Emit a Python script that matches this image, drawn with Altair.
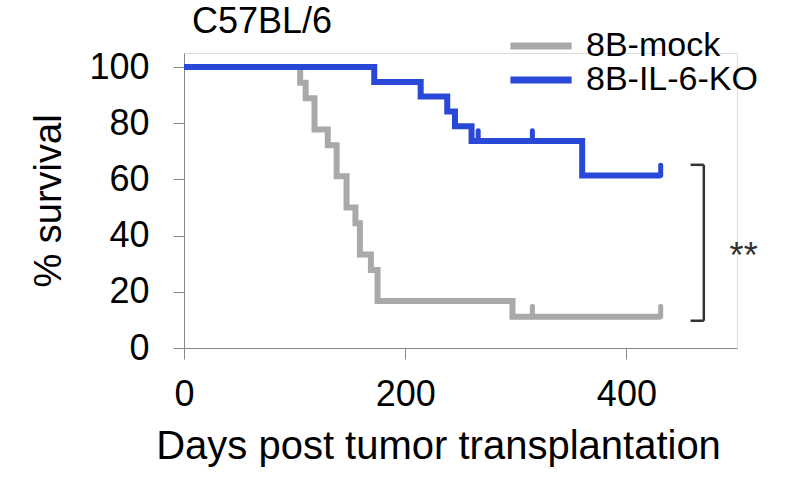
import altair as alt
import pandas as pd

FONT = "Liberation Sans"

# Kaplan-Meier step data (days, % survival)
mock_days = [0, 105, 110, 118, 130, 138, 147, 155, 159, 169, 175, 297, 431]
mock_surv = [100, 94.4, 88.9, 77.8, 72.2, 61.1, 50.0, 44.4, 33.3, 27.8, 16.7, 11.1, 11.1]
ko_days = [0, 172, 214, 238, 245, 260, 360, 431]
ko_surv = [100, 94.7, 89.5, 84.2, 78.9, 73.7, 61.4, 61.4]

# censored observations
cens_mock_days = [315, 431]
cens_mock_surv = [11.1, 11.1]
cens_ko_days = [266, 315, 431]
cens_ko_surv = [73.7, 73.7, 61.4]

groups = ["8B-mock", "8B-IL-6-KO"]
colors = ["#a9a9a9", "#2a48d8"]

# significance bracket (data units)
br_x = [470, 458, 458]
br_x2 = [470, 470, 470]
br_y = [9.7, 65.2, 9.7]
br_y2 = [65.2, 65.2, 9.7]
sig_label = ["**"]
sig_x = [506]
sig_y = [32.5]

curves = pd.concat([
    pd.DataFrame({"day": mock_days, "surv": mock_surv, "group": groups[0]}),
    pd.DataFrame({"day": ko_days, "surv": ko_surv, "group": groups[1]}),
])
cens = pd.concat([
    pd.DataFrame({"day": cens_mock_days, "surv": cens_mock_surv, "group": groups[0]}),
    pd.DataFrame({"day": cens_ko_days, "surv": cens_ko_surv, "group": groups[1]}),
])
bracket = pd.DataFrame({"x": br_x, "x2": br_x2, "y": br_y, "y2": br_y2})
sig = pd.DataFrame({"label": sig_label, "x": sig_x, "y": sig_y})

xscale = alt.Scale(domain=[0, 500], nice=False)
yscale = alt.Scale(domain=[0, 105], nice=False)
color = alt.Color(
    "group:N",
    scale=alt.Scale(domain=groups, range=colors),
    sort=groups,
    legend=alt.Legend(
        title=None, orient="none", legendX=340, legendY=-24,
        symbolType="M-6,0H6", symbolSize=104, symbolStrokeWidth=7,
        labelFontSize=34, labelFont=FONT, labelOffset=28, labelColor="black",
        labelLimit=400, rowPadding=0, padding=0,
    ),
)

xax = alt.Axis(values=[0, 200, 400], title="Days post tumor transplantation",
               labelFontSize=36, titleFontSize=40, labelPadding=18, titlePadding=14,
               titleFontWeight="normal", labelFlush=False, titleX=254,
               tickSize=11, grid=False)
yax = alt.Axis(values=[0, 20, 40, 60, 80, 100], title="% survival",
               labelFontSize=36, titleFontSize=38, labelPadding=24, titlePadding=20,
               titleFontWeight="normal",
               tickSize=11, grid=False)

lines = alt.Chart(curves).mark_line(interpolate="step-after", strokeWidth=6).encode(
    x=alt.X("day:Q", scale=xscale, axis=xax),
    y=alt.Y("surv:Q", scale=yscale, axis=yax),
    color=color,
    detail="group:N",
)

ticks = alt.Chart(cens).mark_point(
    shape="M0,0L0,-1", size=420, strokeWidth=5, filled=False, opacity=1, strokeCap="round"
).encode(
    x=alt.X("day:Q", scale=xscale),
    y=alt.Y("surv:Q", scale=yscale),
    color=alt.Color("group:N", scale=alt.Scale(domain=groups, range=colors), legend=None),
)

brk = alt.Chart(bracket).mark_rule(color="#333333", strokeWidth=2.5).encode(
    x=alt.X("x:Q", scale=xscale), x2="x2:Q",
    y=alt.Y("y:Q", scale=yscale), y2="y2:Q",
)

stars = alt.Chart(sig).mark_text(fontSize=36, font=FONT, color="#333333", baseline="middle").encode(
    x=alt.X("x:Q", scale=xscale), y=alt.Y("y:Q", scale=yscale), text="label:N"
)

chart = alt.layer(lines, ticks, brk, stars).properties(
    width=553, height=295,
    autosize=alt.AutoSizeParams(type="none"),
    padding={"left": 184, "top": 53, "right": 63, "bottom": 132},
    title=alt.TitleParams("C57BL/6", anchor="start", frame="group", fontSize=36,
                          font=FONT, fontWeight="normal", color="black", dx=8, dy=16, offset=4),
).configure_view(stroke=None).configure_axis(
    domainColor="black", tickColor="black", labelColor="black", titleColor="black",
    domainWidth=2.5, tickWidth=2.5, labelFont=FONT, titleFont=FONT,
).configure(background="white")

chart.save("out.html", embed_options={"renderer": "svg", "actions": False})
